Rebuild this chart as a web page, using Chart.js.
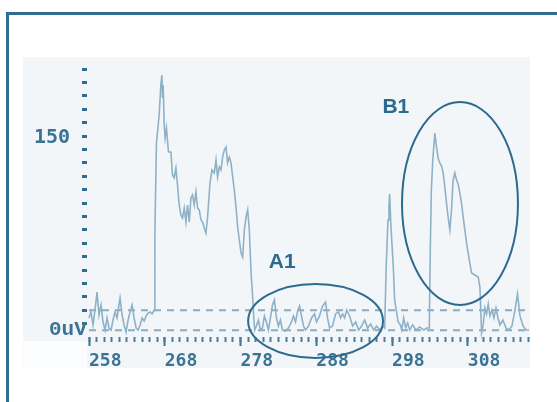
<!DOCTYPE html>
<html>
<head>
<meta charset="utf-8">
<title>Signal trace</title>
<script src="https://cdn.jsdelivr.net/npm/chart.js@4.4.1/dist/chart.umd.min.js"></script>
<style>
  html, body { margin: 0; padding: 0; background: #ffffff; overflow: hidden; }
  canvas { display: block; }
</style>
</head>
<body>
<canvas id="trace" width="557" height="402"></canvas>
<script>
// Sample positions along the horizontal axis
const positions = [
  258.00, 258.26, 258.53, 258.79, 259.06, 259.32, 259.59, 259.85, 260.12, 260.38,
  260.65, 260.91, 261.17, 261.44, 261.70, 262.10, 262.37, 262.63, 262.89, 263.16,
  263.42, 263.69, 263.95, 264.22, 264.48, 264.75, 265.01, 265.28, 265.54, 265.80,
  266.07, 266.33, 266.60, 266.69, 266.90, 267.26, 267.48, 267.62, 267.70, 267.79,
  267.92, 268.05, 268.22, 268.49, 268.81, 269.02, 269.24, 269.47, 269.68, 269.90,
  270.13, 270.34, 270.57, 270.79, 271.00, 271.23, 271.45, 271.66, 271.89, 272.11,
  272.33, 272.55, 272.78, 272.99, 273.21, 273.44, 273.65, 273.97, 274.23, 274.53,
  274.76, 274.97, 275.20, 275.42, 275.63, 275.86, 276.08, 276.29, 276.52, 276.74,
  276.96, 277.18, 277.40, 277.62, 277.84, 278.07, 278.28, 278.50, 278.73, 278.94,
  279.16, 279.26, 279.39, 279.60, 279.74, 279.87,
  280.09, 280.36, 280.62, 280.88, 281.15, 281.41, 281.68, 281.94, 282.21, 282.47,
  282.74, 283.00, 283.26, 283.53, 283.93, 284.32, 284.72, 284.98, 285.25, 285.51,
  285.78, 286.04, 286.31, 286.57, 286.97, 287.37, 287.76, 288.03, 288.42, 288.82,
  289.22, 289.48, 289.75, 290.14, 290.54, 290.94, 291.20, 291.47, 291.73, 292.00,
  292.39, 292.79, 293.19, 293.58, 293.98, 294.38, 294.77, 295.17, 295.57, 295.96,
  296.36, 296.76, 297.02,
  297.22, 297.46, 297.59, 297.68, 297.82, 297.95, 298.16, 298.34, 298.61, 298.80,
  299.10, 299.27, 299.53, 299.80, 300.06, 300.33, 300.72, 301.12, 301.65, 302.18,
  302.58, 302.91, 303.04, 303.18, 303.37, 303.64, 303.86, 304.07, 304.30, 304.52,
  304.73, 304.96, 305.18, 305.39, 305.62, 305.84, 306.05, 306.28, 306.50, 306.71,
  306.94, 307.16, 307.38, 307.60, 307.83, 308.04, 308.26, 308.49, 308.92, 309.36,
  309.59, 309.72, 309.81, 310.02, 310.25, 310.47, 310.69, 310.91, 311.18, 311.44,
  311.71, 311.97, 312.23, 312.63, 313.03, 313.42, 313.82, 314.22, 314.55, 314.88,
  315.28, 315.67, 316.07
];

// Detector response (uV) at each position
const signal = [
  14.2, 18.7, 9.0, 20.1, 33.6, 16.4, 23.9, 11.2, 5.2, 14.2,
  6.7, 5.2, 12.7, 18.7, 14.2, 29.1, 16.4, 9.0, 3.7, 12.7,
  18.7, 23.9, 14.2, 6.7, 5.2, 9.0, 14.2, 11.9, 15.7, 17.9,
  18.7, 17.2, 20.1, 76.1, 144.8, 165.7, 188.1, 195.5, 178.4, 188.1,
  158.2, 148.5, 156.0, 138.1, 138.1, 120.9, 118.7, 126.1, 113.4, 98.5,
  91.0, 88.8, 96.3, 85.8, 98.5, 85.8, 103.7, 106.0, 98.5, 108.2,
  96.3, 94.8, 87.3, 85.8, 81.3, 77.6, 89.6, 114.9, 124.6, 122.4,
  132.1, 119.4, 126.9, 124.6, 134.3, 139.6, 141.8, 129.9, 134.3, 129.9,
  119.4, 109.7, 97.0, 82.1, 72.4, 62.7, 59.7, 79.9, 89.6, 94.8,
  79.9, 64.9, 47.8, 29.9, 14.9, 5.2,
  8.2, 12.7, 5.2, 6.7, 15.7, 11.2, 5.2, 14.2, 23.9, 27.6,
  14.2, 8.2, 12.7, 5.2, 4.5, 6.7, 11.2, 15.7, 11.2, 18.7,
  23.1, 15.7, 8.2, 5.2, 8.2, 14.2, 17.2, 11.2, 15.7, 23.1,
  26.1, 14.2, 6.7, 8.2, 17.2, 18.7, 14.2, 17.2, 14.2, 20.1,
  15.7, 8.2, 11.2, 5.2, 8.2, 12.7, 6.7, 9.7, 5.2, 8.2,
  5.2, 8.2, 6.7,
  52.2, 87.3, 98.5, 106.7, 85.8, 72.4, 52.2, 27.6, 17.9, 11.2,
  9.0, 5.2, 14.2, 6.7, 10.4, 5.2, 9.0, 5.2, 7.5, 5.2,
  6.7, 6.7, 64.9, 109.7, 132.1, 152.2, 141.8, 133.6, 129.9, 127.6,
  123.1, 111.9, 100.0, 89.6, 79.9, 94.8, 117.2, 122.4, 117.2, 114.2,
  107.5, 100.0, 89.6, 79.9, 70.1, 62.7, 55.2, 47.8, 46.3, 44.8,
  37.3, 17.9, 3.0, 9.0, 21.6, 17.2, 24.6, 15.7, 20.1, 14.2,
  21.6, 14.2, 9.0, 12.7, 6.7, 5.2, 8.2, 20.1, 32.1, 15.7,
  8.2, 5.2, 5.2
];

// Horizontal threshold levels (uV)
const thresholdLevels = [5, 20];

// Axis ranges and ticks
const xRange = [258, 316.2];
const yRange = [0, 200];
const xMajorTicks = [258, 268, 278, 288, 298, 308];
const xMinorStep = 1;
const yMinorStep = 10;
const yZeroTick = [0];
const yValueTick = [150];

// Marked regions: name, centre and half-extent in axis units, label anchor
const regionNames = ['A1', 'B1'];
const regionCenterX = [287.9, 306.96];
const regionCenterY = [11.9, 99.6];
const regionHalfWidth = [8.9, 7.65];
const regionHalfHeight = [27.6, 75.7];
const regionLabelX = [283.5, 298.5];
const regionLabelY = [55.6, 171.3];

const INK = '#3b7394';
const FRAME = '#2e6e93';
const TRACE = '#8fb1c7';

const tracePoints = positions.map((x, i) => ({ x: x, y: signal[i] }));

const thresholdSets = thresholdLevels.map(level => ({
  data: [{ x: xRange[0], y: level }, { x: xRange[1], y: level }],
  borderColor: '#8aacc2',
  borderWidth: 2,
  borderDash: [7, 6],
  pointRadius: 0,
  fill: false,
  clip: false
}));

// Panel, frame and region annotations
const decor = {
  id: 'decor',
  beforeDraw(chart) {
    const ctx = chart.ctx;
    const a = chart.chartArea;
    ctx.save();
    ctx.fillStyle = '#ffffff';
    ctx.fillRect(0, 0, chart.width, chart.height);
    ctx.fillStyle = '#f2f6f9';
    ctx.fillRect(23, 57, a.right - 23, 311);
    ctx.fillStyle = '#fafcfd';
    ctx.fillRect(23, a.bottom + 4, a.left - 25, 368 - a.bottom - 4);
    ctx.fillStyle = FRAME;
    ctx.fillRect(6, 12, 3, chart.height - 12);
    ctx.fillRect(6, 12, chart.width - 6, 3);
    ctx.restore();
  },
  afterDraw(chart) {
    const ctx = chart.ctx;
    const xs = chart.scales.x;
    const ys = chart.scales.y;
    ctx.save();
    regionNames.forEach((name, i) => {
      const cx = xs.getPixelForValue(regionCenterX[i]);
      const cy = ys.getPixelForValue(regionCenterY[i]);
      const rx = Math.abs(xs.getPixelForValue(regionCenterX[i] + regionHalfWidth[i]) - cx);
      const ry = Math.abs(ys.getPixelForValue(regionCenterY[i] + regionHalfHeight[i]) - cy);
      ctx.beginPath();
      ctx.ellipse(cx, cy, rx, ry, 0, 0, Math.PI * 2);
      ctx.strokeStyle = '#2c6b8f';
      ctx.lineWidth = 2;
      ctx.stroke();
      ctx.fillStyle = '#2c6a8e';
      ctx.font = 'bold 21px "Liberation Sans", Arial, sans-serif';
      ctx.textAlign = 'center';
      ctx.textBaseline = 'middle';
      ctx.fillText(name, xs.getPixelForValue(regionLabelX[i]), ys.getPixelForValue(regionLabelY[i]));
    });
    ctx.restore();
  }
};

const monoBold = (size) => ({ family: '"DejaVu Sans Mono", monospace', size: size, weight: 'bold' });

new Chart(document.getElementById('trace'), {
  type: 'line',
  data: {
    datasets: [
      {
        data: tracePoints,
        borderColor: TRACE,
        borderWidth: 1.6,
        pointRadius: 0,
        tension: 0,
        fill: false,
        clip: 4
      },
      ...thresholdSets
    ]
  },
  options: {
    responsive: false,
    animation: false,
    devicePixelRatio: 1,
    layout: { padding: { left: 0, top: 69, right: 27, bottom: 25 } },
    plugins: { legend: { display: false }, tooltip: { enabled: false } },
    scales: {
      x: {
        type: 'linear',
        position: 'bottom',
        weight: 1,
        min: xRange[0],
        max: xRange[1],
        afterBuildTicks: s => { s.ticks = xMajorTicks.map(v => ({ value: v })); },
        afterFit: s => { s.height = 40; },
        grid: { drawOnChartArea: false, drawTicks: true, tickLength: 9, tickWidth: 2, color: INK },
        border: { display: false },
        ticks: {
          align: 'start', padding: 5, color: INK, font: monoBold(18),
          maxRotation: 0, autoSkip: false, callback: v => String(v)
        }
      },
      xMinor: {
        type: 'linear',
        position: 'bottom',
        weight: 0,
        min: xRange[0],
        max: xRange[1],
        afterBuildTicks: s => {
          const t = [];
          for (let v = Math.ceil(s.min); v <= s.max; v += xMinorStep) t.push({ value: v });
          s.ticks = t;
        },
        afterFit: s => { s.height = 0; },
        grid: { drawOnChartArea: false, drawTicks: true, tickLength: 5, tickWidth: 2, color: '#4a7d9b' },
        border: { display: false },
        ticks: { display: false }
      },
      y: {
        type: 'linear',
        position: 'left',
        weight: 1,
        min: yRange[0],
        max: yRange[1],
        afterBuildTicks: s => {
          const t = [];
          for (let v = yMinorStep; v <= s.max; v += yMinorStep) t.push({ value: v });
          s.ticks = t;
        },
        afterFit: s => { s.width = 5; },
        grid: { drawOnChartArea: false, drawTicks: true, tickLength: 5, tickWidth: 3, color: '#2f6d90' },
        border: { display: false },
        ticks: { display: false }
      },
      yZero: {
        type: 'linear',
        position: 'left',
        weight: 0,
        min: yRange[0],
        max: yRange[1],
        afterBuildTicks: s => { s.ticks = yZeroTick.map(v => ({ value: v })); },
        afterFit: s => { s.width = 2; },
        grid: { display: false, drawTicks: false },
        border: { display: false },
        ticks: {
          mirror: true, crossAlign: 'near', padding: -40, labelOffset: -7,
          color: INK, autoSkip: false,
          font: { family: '"Liberation Mono", monospace', size: 21, weight: 'bold' },
          callback: v => v + 'uV'
        }
      },
      yValue: {
        type: 'linear',
        position: 'left',
        weight: 2,
        min: yRange[0],
        max: yRange[1],
        afterBuildTicks: s => { s.ticks = yValueTick.map(v => ({ value: v })); },
        afterFit: s => { s.width = 82; },
        grid: { display: false, drawTicks: false },
        border: { display: false },
        ticks: {
          padding: 12, labelOffset: 2, color: INK, autoSkip: false,
          font: monoBold(20),
          callback: v => String(v)
        }
      }
    }
  },
  plugins: [decor]
});
</script>
</body>
</html>
